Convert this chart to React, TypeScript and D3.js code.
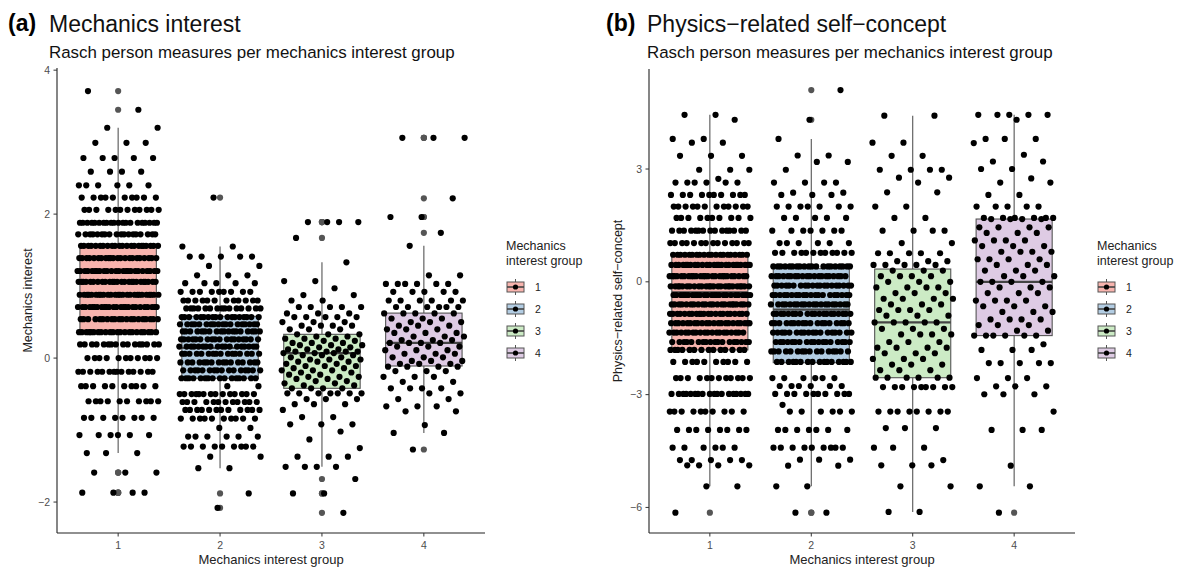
import React from 'react';
import * as d3 from 'd3';

const FONT = "'Liberation Sans', Arial, Helvetica, sans-serif";

const groups = ['1', '2', '3', '4'];
const groupFills = ['#F8B4AE', '#B3CDE3', '#CCEBC5', '#DECBE4'];

type Level = [number, number]; // [Rasch measure, number of persons]

// (a) Mechanics interest — person measures per interest group
const interestG1: Level[] = [
  [3.71, 1], [3.45, 1], [3.2, 2], [2.99, 3], [2.78, 5], [2.59, 4], [2.4, 6], [2.23, 10],
  [2.06, 12], [1.88, 20], [1.72, 18], [1.56, 22], [1.39, 22], [1.21, 24], [1.06, 25],
  [0.88, 26], [0.71, 25], [0.54, 20], [0.36, 22], [0.19, 16], [0.0, 11], [-0.19, 14],
  [-0.39, 10], [-0.6, 10], [-0.83, 8], [-1.07, 6], [-1.32, 3], [-1.59, 3], [-1.87, 4],
];
const interestG2: Level[] = [
  [2.23, 1], [1.55, 2], [1.41, 5], [1.28, 2], [1.15, 3], [1.04, 5], [0.92, 9], [0.8, 12],
  [0.69, 15], [0.57, 18], [0.47, 18], [0.37, 18], [0.26, 18], [0.16, 18], [0.06, 16],
  [-0.06, 16], [-0.17, 16], [-0.28, 16], [-0.39, 2], [-0.5, 14], [-0.61, 12], [-0.72, 12],
  [-0.84, 10], [-0.97, 2], [-1.09, 6], [-1.23, 9], [-1.37, 2], [-1.53, 2], [-1.88, 1], [-2.08, 1],
];
const interestG3: Level[] = [
  [1.89, 4], [1.67, 1], [1.33, 1], [1.07, 2], [0.97, 1], [0.875, 2], [0.8, 2], [0.71, 5],
  [0.62, 3], [0.57, 5], [0.5, 3], [0.45, 4], [0.4, 3],
  [0.33, 3], [0.3, 2], [0.27, 3], [0.24, 2], [0.21, 3], [0.18, 3], [0.15, 2], [0.12, 3],
  [0.09, 4], [0.07, 3], [0.04, 3], [0.01, 2], [-0.02, 3], [-0.05, 3], [-0.08, 2], [-0.11, 3],
  [-0.14, 2], [-0.17, 3], [-0.2, 2], [-0.23, 2], [-0.26, 3], [-0.29, 2], [-0.32, 2],
  [-0.35, 2], [-0.38, 2], [-0.42, 4],
  [-0.49, 7], [-0.57, 3], [-0.64, 3], [-0.72, 1], [-0.82, 2], [-0.92, 3], [-1.02, 1],
  [-1.13, 1], [-1.25, 1], [-1.37, 3], [-1.51, 4], [-1.68, 1], [-1.88, 2], [-2.15, 1],
];
const interestG4: Level[] = [
  [3.06, 3], [2.22, 1], [1.96, 2], [1.74, 1], [1.56, 1], [1.15, 2], [1.03, 6], [0.92, 5],
  [0.8, 6], [0.71, 6], [0.62, 5], [0.55, 3], [0.5, 3], [0.45, 3], [0.4, 3], [0.35, 3],
  [0.3, 3], [0.25, 3], [0.21, 4], [0.16, 3], [0.11, 3], [0.06, 3], [0.01, 3], [-0.04, 3],
  [-0.08, 3], [-0.12, 4], [-0.18, 3], [-0.26, 3], [-0.33, 2], [-0.42, 4], [-0.49, 2],
  [-0.57, 2], [-0.67, 3], [-0.74, 2], [-0.93, 1], [-1.04, 2], [-1.27, 1],
];

// (b) Physics-related self-concept — person measures per interest group
const conceptG1: Level[] = [
  [4.44, 2], [4.31, 1], [3.8, 2], [3.7, 2], [3.35, 3], [2.98, 3], [2.74, 1], [2.64, 6],
  [2.31, 10], [2.0, 12], [1.7, 10], [1.36, 15], [1.03, 14], [0.72, 20], [0.45, 25],
  [0.15, 25], [-0.12, 25], [-0.35, 25], [-0.6, 22], [-0.85, 22], [-1.1, 22], [-1.35, 20],
  [-1.6, 18], [-1.81, 14], [-2.13, 10], [-2.56, 12], [-2.98, 18], [-3.45, 10], [-3.94, 8],
  [-4.41, 6], [-4.74, 5], [-4.88, 4], [-5.44, 2], [-6.14, 1],
];
const conceptG2: Level[] = [
  [5.1, 1], [4.31, 1], [3.8, 1], [3.36, 2], [3.19, 2], [2.98, 1], [2.64, 4], [2.37, 2],
  [2.31, 3], [2.0, 7], [1.7, 5], [1.36, 7], [1.03, 6], [0.77, 12], [0.41, 20], [0.15, 20],
  [-0.1, 20], [-0.35, 20], [-0.6, 20], [-0.85, 20], [-1.1, 18], [-1.35, 18], [-1.6, 18],
  [-1.85, 16], [-2.13, 16], [-2.56, 6], [-2.77, 6], [-2.98, 10], [-3.27, 1], [-3.45, 6],
  [-3.94, 7], [-4.41, 9], [-4.73, 3], [-4.89, 2], [-5.44, 2], [-6.14, 2],
];
const conceptG3: Level[] = [
  [4.42, 2], [3.7, 2], [3.35, 2], [2.98, 4], [2.77, 2], [2.64, 1], [2.38, 2], [2.0, 2],
  [1.7, 2], [1.36, 4], [1.03, 2], [0.76, 5], [0.55, 3], [0.45, 5],
  [0.3, 3], [0.15, 4], [0.0, 3], [-0.15, 4], [-0.3, 3], [-0.45, 4], [-0.6, 3], [-0.75, 4],
  [-0.9, 3], [-1.08, 5], [-1.25, 3], [-1.4, 4], [-1.6, 3], [-1.75, 4], [-1.9, 3],
  [-2.05, 3], [-2.2, 3], [-2.35, 3], [-2.55, 6],
  [-2.8, 9], [-3.45, 8], [-3.89, 3], [-4.41, 3], [-4.74, 1], [-4.88, 3], [-5.44, 2], [-6.12, 2],
];
const conceptG4: Level[] = [
  [4.44, 5], [4.31, 1], [3.8, 3], [3.69, 1], [3.38, 1], [3.2, 2], [3.0, 2], [2.75, 1],
  [2.64, 2], [2.31, 2], [2.0, 5], [1.7, 6],
  [1.67, 4], [1.45, 4], [1.3, 3], [1.1, 4], [0.95, 3], [0.8, 4], [0.6, 4], [0.45, 3],
  [0.3, 3], [0.15, 3], [0.0, 4], [-0.15, 3], [-0.3, 3], [-0.5, 4], [-0.65, 3], [-0.8, 3],
  [-1.0, 4], [-1.15, 3], [-1.3, 2], [-1.43, 6],
  [-1.66, 1], [-1.81, 3], [-2.16, 5], [-2.56, 3], [-2.78, 3], [-2.99, 3], [-3.45, 1],
  [-3.94, 3], [-4.89, 1], [-5.44, 2], [-6.14, 1],
];

// Box statistics per group: [lower whisker, Q1, median, Q3, upper whisker]
const interestBoxes = [
  [-1.32, 0.36, 0.875, 1.556, 3.2],
  [-1.53, -0.28, 0.14, 0.58, 1.55],
  [-1.51, -0.42, 0.07, 0.33, 1.33],
  [-1.04, -0.11, 0.21, 0.625, 1.56],
];
const conceptBoxes = [
  [-5.44, -1.81, -0.28, 0.72, 4.44],
  [-5.44, -2.15, -0.74, 0.35, 3.8],
  [-6.12, -2.55, -1.08, 0.34, 4.42],
  [-5.44, -1.43, 0.0, 1.67, 4.44],
];

const interestTicks = [-2, 0, 2, 4];
const conceptTicks = [-6, -3, 0, 3];

const fmt = (v: number) => (v < 0 ? `\u2212${Math.abs(v)}` : `${v}`);

type PanelProps = {
  letter: string;
  title: string;
  subtitle: string;
  yLabel: string;
  yLabelX: number;
  series: Level[][];
  boxes: number[][];
  yDomain: [number, number];
  yTicks: number[];
  left: number;
  right: number;
  top: number;
  bottom: number;
  letterX: number;
  titleX: number;
  legendX: number;
  seed: number;
};

function Panel(p: PanelProps) {
  const x = d3.scaleLinear().domain([0.4, 4.6]).range([p.left, p.right]);
  const y = d3.scaleLinear().domain(p.yDomain).range([p.bottom, p.top]);
  const half = 0.375;
  const grey = '#555555';

  // horizontal jitter within ±0.4 of the group position
  const points = p.series.map((levels, gi) => {
    const out: { v: number; dx: number }[] = [];
    let k = 0;
    levels.forEach(([v, n]) => {
      for (let i = 0; i < n; i++) {
        const u = (k * 0.6180339887 + gi * 0.29 + p.seed) % 1;
        out.push({ v, dx: (u * 2 - 1) * 0.4 });
        k++;
      }
    });
    return out;
  });

  const legendTop = 240;
  return (
    <g fontFamily={FONT}>
      <text x={p.letterX} y={31} fontSize={23} fontWeight="bold" fill="#000">{p.letter}</text>
      <text x={p.titleX} y={32} fontSize={23} fill="#111">{p.title}</text>
      <text x={p.titleX} y={57.5} fontSize={16.9} fill="#111">{p.subtitle}</text>

      {/* boxes with whiskers and outliers */}
      {p.boxes.map((b, gi) => {
        const cx = x(gi + 1);
        const [lo, q1, med, q3, hi] = b;
        const outliers = points[gi].filter((d) => d.v > hi + 1e-6 || d.v < lo - 1e-6);
        return (
          <g key={`box${gi}`}>
            <line x1={cx} x2={cx} y1={y(q3)} y2={y(hi)} stroke={grey} strokeWidth={1.1} />
            <line x1={cx} x2={cx} y1={y(q1)} y2={y(lo)} stroke={grey} strokeWidth={1.1} />
            <rect x={x(gi + 1 - half)} y={y(q3)} width={x(gi + 1 + half) - x(gi + 1 - half)}
              height={y(q1) - y(q3)} fill={groupFills[gi]} stroke={grey} strokeWidth={1.1} />
            <line x1={x(gi + 1 - half)} x2={x(gi + 1 + half)} y1={y(med)} y2={y(med)}
              stroke="#444" strokeWidth={2.2} />
            {outliers.map((d, i) => (
              <circle key={i} cx={cx} cy={y(d.v)} r={3.1} fill={grey} />
            ))}
          </g>
        );
      })}

      {/* jittered person measures */}
      {points.map((pts, gi) => (
        <g key={`pts${gi}`}>
          {pts.map((d, i) => (
            <circle key={i} cx={x(gi + 1 + d.dx)} cy={y(d.v)} r={3.1} fill="#000" />
          ))}
        </g>
      ))}

      {/* axes */}
      <line x1={p.left} x2={p.left} y1={p.top} y2={p.bottom} stroke="#222" strokeWidth={1.1} />
      <line x1={p.left} x2={p.right} y1={p.bottom} y2={p.bottom} stroke="#222" strokeWidth={1.1} />
      {p.yTicks.map((t) => (
        <g key={`yt${t}`}>
          <line x1={p.left - 3.5} x2={p.left} y1={y(t)} y2={y(t)} stroke="#333" strokeWidth={1} />
          <text x={p.left - 7} y={y(t)} dy="0.35em" textAnchor="end" fontSize={10.5} fill="#4d4d4d">
            {fmt(t)}
          </text>
        </g>
      ))}
      {groups.map((g, gi) => (
        <g key={`xt${g}`}>
          <line x1={x(gi + 1)} x2={x(gi + 1)} y1={p.bottom} y2={p.bottom + 3.5} stroke="#333" strokeWidth={1} />
          <text x={x(gi + 1)} y={p.bottom + 16} textAnchor="middle" fontSize={10.5} fill="#4d4d4d">{g}</text>
        </g>
      ))}
      <text x={(p.left + p.right) / 2} y={564} textAnchor="middle" fontSize={13} fill="#222">
        Mechanics interest group
      </text>
      <text transform={`translate(${p.yLabelX},${(p.top + p.bottom) / 2}) rotate(-90)`}
        textAnchor="middle" fontSize={12.5} fill="#222">
        {p.yLabel}
      </text>

      {/* legend */}
      <text x={p.legendX - 1} y={legendTop + 9.5} fontSize={12.5} fill="#222">Mechanics</text>
      <text x={p.legendX - 1} y={legendTop + 25} fontSize={12.5} fill="#222">interest group</text>
      {groups.map((g, gi) => {
        const cy = 287 + gi * 22;
        const kx = p.legendX;
        return (
          <g key={`lg${g}`}>
            <line x1={kx + 8.5} x2={kx + 8.5} y1={cy - 8} y2={cy + 8} stroke={grey} strokeWidth={1} />
            <rect x={kx} y={cy - 5} width={17} height={10} fill={groupFills[gi]} stroke={grey} strokeWidth={1} />
            <line x1={kx} x2={kx + 17} y1={cy} y2={cy} stroke="#444" strokeWidth={1.6} />
            <circle cx={kx + 8.5} cy={cy} r={2.6} fill="#000" />
            <text x={kx + 28} y={cy} dy="0.35em" fontSize={10.5} fill="#222">{g}</text>
          </g>
        );
      })}
    </g>
  );
}

export default function App() {
  return (
    <svg width={1185} height={568} style={{ position: 'absolute', left: 0, top: 0, background: '#fff' }}>
      <rect width={1185} height={568} fill="#fff" />
      <Panel
        letter="(a)"
        title="Mechanics interest"
        subtitle="Rasch person measures per mechanics interest group"
        yLabel="Mechanics interest"
        yLabelX={31.5}
        series={[interestG1, interestG2, interestG3, interestG4]}
        boxes={interestBoxes}
        yDomain={[-2.43, 4.03]}
        yTicks={interestTicks}
        left={57}
        right={485}
        top={68}
        bottom={533}
        letterX={8}
        titleX={49}
        legendX={507}
        seed={0.13}
      />
      <Panel
        letter="(b)"
        title={'Physics\u2212related self\u2212concept'}
        subtitle="Rasch person measures per mechanics interest group"
        yLabel={'Physics\u2212related self\u2212concept'}
        yLabelX={622}
        series={[conceptG1, conceptG2, conceptG3, conceptG4]}
        boxes={conceptBoxes}
        yDomain={[-6.68, 5.66]}
        yTicks={conceptTicks}
        left={649}
        right={1075}
        top={69}
        bottom={533}
        letterX={606}
        titleX={647}
        legendX={1098}
        seed={0.57}
      />
    </svg>
  );
}
